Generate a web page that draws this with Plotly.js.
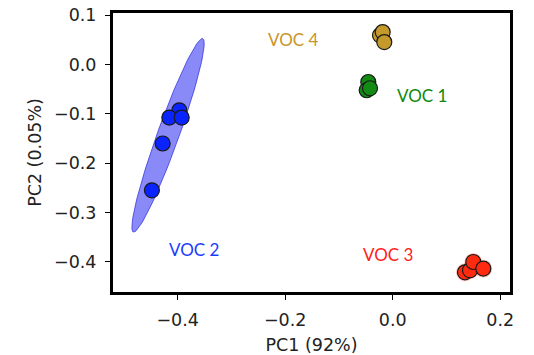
<!DOCTYPE html>
<html><head><meta charset="utf-8">
<script src="https://cdn.plot.ly/plotly-3.0.1.min.js"></script>
<style>html,body{margin:0;padding:0;background:#fff;}#chart{width:534px;height:355px;}</style>
</head><body><div id="chart"></div>
<script>
// PCA scores
const voc1X = [-0.0454, -0.0484, -0.0422];
const voc1Y = [-0.0353, -0.052, -0.048];
const voc2X = [-0.397, -0.4156, -0.3926, -0.428, -0.448];
const voc2Y = [-0.0927, -0.1075, -0.1075, -0.160, -0.255];
const voc3X = [0.1345, 0.1438, 0.150, 0.1686];
const voc3Y = [-0.4213, -0.4172, -0.4004, -0.4138];
const voc4X = [-0.0236, -0.0186, -0.0156];
const voc4Y = [0.0594, 0.066, 0.0458];
// confidence ellipse for VOC 2: center, semi-major vector, semi-minor vector
const ell2Center = [-0.418, -0.1434];
const ell2Major = [0.0646, 0.1962];
const ell2Minor = [0.0189, -0.0074];
const labels = ["VOC 1", "VOC 2", "VOC 3", "VOC 4"];
const labelX = [0.0545, -0.3694, -0.0087, -0.1855];
const labelY = [-0.0623, -0.3747, -0.3848, 0.0513];
const colors = ["#138a13", "#0a24ff", "#ff2a10", "#c49a2c"];
const labelColors = ["#0b8a0b", "#1a3cff", "#ff2020", "#c8952a"];

function ellipse(c, a, b) {
  const xs = [], ys = [];
  for (let i = 0; i <= 120; i++) {
    const t = 2 * Math.PI * i / 120;
    xs.push(c[0] + a[0] * Math.cos(t) + b[0] * Math.sin(t));
    ys.push(c[1] + a[1] * Math.cos(t) + b[1] * Math.sin(t));
  }
  return {x: xs, y: ys};
}
const e2 = ellipse(ell2Center, ell2Major, ell2Minor);

const mk = (c) => ({size: 15, color: c, line: {color: "#1a1a1a", width: 1.2}});
const traces = [
  {x: e2.x, y: e2.y, mode: "lines", fill: "toself", fillcolor: "rgba(40,40,240,0.55)",
   line: {color: "rgba(40,40,220,0.7)", width: 1}, hoverinfo: "skip"},
  {x: voc4X, y: voc4Y, mode: "markers", marker: mk(colors[3])},
  {x: voc1X, y: voc1Y, mode: "markers", marker: mk(colors[0])},
  {x: voc2X, y: voc2Y, mode: "markers", marker: mk(colors[1])},
  {x: voc3X, y: voc3Y, mode: "markers", marker: {size: 18, color: "rgba(255,40,20,0.25)", line: {width: 0}}},
  {x: voc3X, y: voc3Y, mode: "markers", marker: mk(colors[2])}
];

const annotations = labels.map((t, i) => ({
  x: labelX[i], y: labelY[i], text: t, showarrow: false,
  font: {family: "Lato, 'Open Sans', sans-serif", size: 17, color: labelColors[i]}
}));

const axisCommon = {
  showgrid: false, zeroline: false, showline: true, mirror: true,
  linecolor: "#000", linewidth: 3, ticks: "outside", ticklen: 5, tickwidth: 1,
  tickcolor: "#000", ticklabelstandoff: 5,
  tickfont: {family: "DejaVu Sans", size: 17.5, color: "#222"}
};
const layout = {
  width: 534, height: 355, showlegend: false,
  margin: {l: 113, r: 24, t: 13, b: 63},
  paper_bgcolor: "#fff", plot_bgcolor: "#fff",
  xaxis: Object.assign({}, axisCommon, {
    range: [-0.5204, 0.2183], tickvals: [-0.4, -0.2, 0.0, 0.2],
    ticktext: ["−0.4", "−0.2", "0.0", "0.2"],
    title: {text: "PC1 (92%)", font: {family: "DejaVu Sans", size: 17.5, color: "#222"}, standoff: 10}
  }),
  yaxis: Object.assign({}, axisCommon, {
    range: [-0.4613, 0.1047], tickvals: [0.1, 0.0, -0.1, -0.2, -0.3, -0.4],
    ticktext: ["0.1", "0.0", "−0.1", "−0.2", "−0.3", "−0.4"],
    title: {text: "PC2 (0.05%)", font: {family: "DejaVu Sans", size: 17.5, color: "#222"}, standoff: 8}
  }),
  annotations: annotations
};
Plotly.newPlot("chart", traces, layout, {displayModeBar: false, staticPlot: true});
</script></body></html>
